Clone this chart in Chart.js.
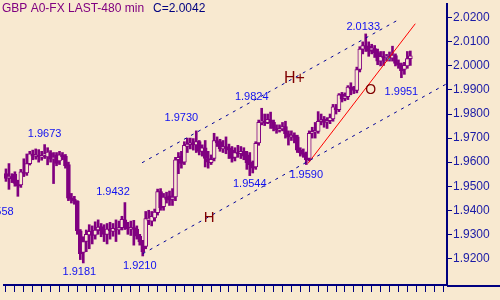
<!DOCTYPE html>
<html>
<head>
<meta charset="utf-8">
<script src="https://cdn.jsdelivr.net/npm/chart.js@4"></script>
<style>
  html, body { margin: 0; padding: 0; background: #F8E9D0; }
</style>
</head>
<body>
<canvas id="myChart" width="500" height="300"></canvas>
<script>
// GBP 480 min bars (bar 0 = leftmost)
var opens = [1.9553,1.9535,1.9540,1.9550,1.9512,1.9505,1.9558,1.9555,1.9594,1.9632,
  1.9625,1.9628,1.9622,1.9630,1.9622,1.9638,1.9614,1.9630,1.9605,1.9630,
  1.9625,1.9590,1.9452,1.9445,1.9438,1.9315,1.9225,1.9270,1.9298,1.9310,
  1.9296,1.9318,1.9332,1.9315,1.9300,1.9322,1.9312,1.9325,1.9318,1.9328,
  1.9360,1.9330,1.9322,1.9328,1.9322,1.9292,1.9268,1.9250,1.9358,1.9355,
  1.9368,1.9390,1.9478,1.9415,1.9455,1.9460,1.9445,1.9455,1.9610,1.9625,
  1.9600,1.9665,1.9675,1.9680,1.9672,1.9685,1.9645,1.9660,1.9615,1.9598,
  1.9615,1.9690,1.9685,1.9655,1.9665,1.9660,1.9650,1.9620,1.9640,1.9635,
  1.9645,1.9630,1.9600,1.9590,1.9580,1.9680,1.9765,1.9770,1.9764,1.9775,
  1.9765,1.9740,1.9733,1.9738,1.9748,1.9718,1.9705,1.9712,1.9705,1.9650,
  1.9640,1.9632,1.9615,1.9720,1.9725,1.9728,1.9770,1.9778,1.9766,1.9772,
  1.9780,1.9825,1.9818,1.9882,1.9865,1.9872,1.9912,1.9905,1.9898,1.9985,
  2.0070,2.0083,2.0082,2.0065,2.0072,2.0055,2.0020,2.0038,2.0035,2.0040,
  2.0032,2.0043,2.0012,2.0005,1.9985,2.0000,2.0030];
var highs = [1.9572,1.9594,1.9552,1.9560,1.9525,1.9570,1.9614,1.9634,1.9645,1.9650,
  1.9655,1.9652,1.9645,1.9673,1.9660,1.9648,1.9640,1.9640,1.9645,1.9640,
  1.9632,1.9600,1.9470,1.9458,1.9440,1.9320,1.9290,1.9318,1.9340,1.9335,
  1.9352,1.9360,1.9345,1.9340,1.9345,1.9350,1.9345,1.9360,1.9355,1.9375,
  1.9432,1.9350,1.9355,1.9358,1.9335,1.9300,1.9275,1.9395,1.9400,1.9395,
  1.9405,1.9488,1.9490,1.9470,1.9475,1.9480,1.9490,1.9620,1.9640,1.9645,
  1.9685,1.9700,1.9700,1.9698,1.9730,1.9690,1.9672,1.9690,1.9645,1.9630,
  1.9720,1.9705,1.9695,1.9690,1.9705,1.9675,1.9665,1.9660,1.9670,1.9665,
  1.9660,1.9645,1.9640,1.9605,1.9685,1.9775,1.9824,1.9800,1.9800,1.9808,
  1.9775,1.9755,1.9755,1.9765,1.9770,1.9730,1.9730,1.9722,1.9712,1.9660,
  1.9655,1.9642,1.9730,1.9745,1.9765,1.9810,1.9800,1.9790,1.9785,1.9800,
  1.9840,1.9840,1.9885,1.9890,1.9888,1.9918,1.9930,1.9915,1.9995,2.0080,
  2.0100,2.0133,2.0100,2.0090,2.0085,2.0070,2.0060,2.0060,2.0048,2.0058,
  2.0082,2.0050,2.0025,2.0012,2.0015,2.0060,2.0062];
var lows = [1.9520,1.9487,1.9515,1.9500,1.9458,1.9495,1.9540,1.9545,1.9588,1.9610,
  1.9612,1.9600,1.9608,1.9615,1.9589,1.9600,1.9511,1.9585,1.9590,1.9610,
  1.9575,1.9440,1.9430,1.9425,1.9300,1.9195,1.9181,1.9228,1.9240,1.9260,
  1.9280,1.9300,1.9290,1.9270,1.9260,1.9280,1.9292,1.9270,1.9300,1.9318,
  1.9320,1.9300,1.9295,1.9255,1.9280,1.9255,1.9210,1.9240,1.9340,1.9335,
  1.9355,1.9380,1.9400,1.9400,1.9430,1.9420,1.9420,1.9440,1.9552,1.9575,
  1.9590,1.9640,1.9655,1.9650,1.9640,1.9630,1.9625,1.9580,1.9575,1.9590,
  1.9605,1.9665,1.9645,1.9640,1.9635,1.9615,1.9600,1.9605,1.9620,1.9615,
  1.9610,1.9570,1.9544,1.9555,1.9570,1.9670,1.9755,1.9752,1.9760,1.9740,
  1.9730,1.9720,1.9725,1.9730,1.9700,1.9671,1.9690,1.9680,1.9640,1.9625,
  1.9620,1.9590,1.9605,1.9700,1.9700,1.9720,1.9755,1.9745,1.9740,1.9760,
  1.9770,1.9800,1.9810,1.9850,1.9855,1.9860,1.9880,1.9885,1.9888,1.9975,
  2.0050,2.0060,2.0040,2.0050,2.0035,2.0005,2.0000,2.0002,2.0020,2.0020,
  2.0020,2.0000,1.9990,1.9951,1.9965,1.9990,2.0002];
var closes = [1.9532,1.9540,1.9530,1.9512,1.9500,1.9560,1.9553,1.9594,1.9635,1.9625,
  1.9630,1.9622,1.9626,1.9634,1.9642,1.9612,1.9620,1.9595,1.9630,1.9622,
  1.9585,1.9450,1.9445,1.9440,1.9315,1.9220,1.9270,1.9300,1.9312,1.9295,
  1.9318,1.9330,1.9315,1.9300,1.9322,1.9315,1.9325,1.9318,1.9328,1.9362,
  1.9330,1.9322,1.9328,1.9320,1.9292,1.9268,1.9228,1.9365,1.9368,1.9375,
  1.9392,1.9478,1.9410,1.9455,1.9445,1.9442,1.9455,1.9610,1.9620,1.9595,
  1.9670,1.9675,1.9680,1.9672,1.9685,1.9645,1.9660,1.9615,1.9600,1.9612,
  1.9690,1.9680,1.9655,1.9665,1.9658,1.9650,1.9615,1.9640,1.9635,1.9645,
  1.9625,1.9598,1.9590,1.9575,1.9678,1.9765,1.9770,1.9762,1.9778,1.9765,
  1.9740,1.9735,1.9740,1.9748,1.9718,1.9705,1.9712,1.9703,1.9650,1.9638,
  1.9632,1.9610,1.9720,1.9728,1.9732,1.9770,1.9776,1.9765,1.9772,1.9785,
  1.9830,1.9818,1.9880,1.9862,1.9875,1.9912,1.9905,1.9898,1.9985,2.0070,
  2.0085,2.0075,2.0060,2.0075,2.0055,2.0020,2.0040,2.0033,2.0040,2.0032,
  2.0045,2.0010,2.0005,1.9980,2.0002,2.0030,2.0042];

var yTicks = [1.92, 1.93, 1.94, 1.95, 1.96, 1.97, 1.98, 1.99, 2.00, 2.01, 2.02];

// drawn lines: [bar index, price]
var upperLine = [[45.77, 1.95975], [131.57, 2.01889]];
var lowerLine = [[46.0, 1.92193], [148.4, 1.99270]];
var redLine = [[101.57, 1.95947], [137.67, 2.01754]];
var crossPoint = [[128.67, 2.00299]];

var bg = "#F8E9D0";
var purple = "#800080";
var navy = "#000080";
var font = "'Liberation Sans', Arial, sans-serif";

// text notes on the chart (bar index, price)
var notes = [
  { t: "1.9558", x: -3.07, y: 1.93926, c: "#1010F0", f: 11 },
  { t: "1.9673", x: 13.0, y: 1.97164, c: "#1010F0", f: 11 },
  { t: "1.9432", x: 36.0, y: 1.94746, c: "#1010F0", f: 11 },
  { t: "1.9181", x: 24.67, y: 1.91426, c: "#1010F0", f: 11 },
  { t: "1.9210", x: 45.0, y: 1.91672, c: "#1010F0", f: 11 },
  { t: "1.9730", x: 59.0, y: 1.97820, c: "#1010F0", f: 11 },
  { t: "1.9544", x: 82.0, y: 1.95074, c: "#1010F0", f: 11 },
  { t: "1.9824", x: 82.67, y: 1.98701, c: "#1010F0", f: 11 },
  { t: "1.9590", x: 101.0, y: 1.95455, c: "#1010F0", f: 11 },
  { t: "2.0133", x: 120.17, y: 2.01602, c: "#1010F0", f: 11 },
  { t: "1.9951", x: 133.0, y: 1.98897, c: "#1010F0", f: 11 },
  { t: "H+", x: 97.0, y: 1.99459, c: "#800000", f: 16 },
  { t: "O", x: 122.67, y: 1.99008, c: "#800000", f: 14 },
  { t: "H", x: 68.33, y: 1.93680, c: "#800000", f: 15 }
];

const toPts = arr => arr.map(p => ({ x: p[0], y: p[1] }));

const decor = {
  id: "decor",
  beforeDraw(chart) {
    const ctx = chart.ctx;
    ctx.save();
    ctx.fillStyle = bg;
    ctx.fillRect(0, 0, chart.width, chart.height);
    ctx.restore();
  },
  afterDatasetsDraw(chart) {
    const ctx = chart.ctx;
    const xs = chart.scales.x, ys = chart.scales.y;
    ctx.save();
    ctx.textAlign = "center";
    ctx.textBaseline = "middle";
    notes.forEach(n => {
      ctx.font = n.f + "px " + font;
      ctx.fillStyle = n.c;
      ctx.fillText(n.t, xs.getPixelForValue(n.x), ys.getPixelForValue(n.y));
    });
    ctx.restore();
  },
  afterDraw(chart) {
    const ctx = chart.ctx;
    const area = chart.chartArea;
    ctx.save();
    // axis line runs on under the price scale
    ctx.strokeStyle = navy;
    ctx.lineWidth = 2;
    ctx.beginPath();
    ctx.moveTo(area.right, area.bottom + 1);
    ctx.lineTo(chart.width, area.bottom + 1);
    ctx.stroke();
    // header
    ctx.font = "12px " + font;
    ctx.textBaseline = "alphabetic";
    ctx.textAlign = "left";
    ctx.fillStyle = purple;
    ctx.fillText("GBP A0-FX LAST-480 min", 2, 12);
    ctx.fillStyle = navy;
    ctx.fillText("C=" + closes[closes.length - 1].toFixed(4), 153, 12);
    ctx.restore();
  }
};

new Chart("myChart", {
  type: "bar",
  data: {
    datasets: [
      { type: "line", data: toPts(upperLine), borderColor: "#000099", borderWidth: 1,
        borderDash: [3, 5], pointRadius: 0, order: 0 },
      { type: "line", data: toPts(lowerLine), borderColor: "#000099", borderWidth: 1,
        borderDash: [3, 5], pointRadius: 0, order: 0 },
      { type: "line", data: toPts(redLine), borderColor: "#FF0000", borderWidth: 1,
        pointRadius: 0, order: 0 },
      { type: "line", data: toPts(crossPoint), showLine: false, pointStyle: "rect",
        pointRadius: 1.5, pointBackgroundColor: "#00E0E0", pointBorderWidth: 0, order: 0 },
      {
        data: opens.map((o, i) => ({ x: i, y: [o, closes[i]] })),
        backgroundColor: ctx => closes[ctx.dataIndex] >= opens[ctx.dataIndex] ? bg : purple,
        borderColor: purple,
        borderWidth: 1,
        borderSkipped: false,
        barThickness: 4,
        minBarLength: 1,
        grouped: false,
        order: 1
      },
      {
        data: lows.map((l, i) => ({ x: i, y: [l, highs[i]] })),
        backgroundColor: purple,
        barThickness: 2,
        grouped: false,
        order: 2
      }
    ]
  },
  options: {
    responsive: false,
    animation: false,
    events: [],
    layout: { padding: { left: 0, top: 0, right: 8, bottom: 8 } },
    plugins: { legend: { display: false }, tooltip: { enabled: false } },
    scales: {
      x: {
        type: "linear",
        min: -2 / 3,
        max: 445 / 3,
        offset: false,
        afterBuildTicks: scale => {
          const t = [];
          for (let i = 0; i <= 147; i += 3) t.push({ value: i });
          scale.ticks = t;
        },
        afterFit: scale => { scale.height = 7; },
        ticks: { display: false },
        grid: { offset: false, drawOnChartArea: false, drawTicks: true, tickLength: 7, color: navy, lineWidth: 1 },
        border: { display: true, color: navy, width: 2 }
      },
      y: {
        position: "right",
        min: 2.02 - 271 / 2440,
        max: 2.02 + 14 / 2440,
        afterBuildTicks: scale => { scale.ticks = yTicks.map(v => ({ value: v })); },
        afterFit: scale => { scale.width = 45; scale.paddingTop = 0; scale.paddingBottom = 0; },
        ticks: {
          padding: 1,
          color: "#1A1AA6",
          font: { family: font, size: 12 },
          callback: v => v.toFixed(4)
        },
        grid: { drawOnChartArea: false, drawTicks: true, tickLength: 5, color: navy, lineWidth: 1 },
        border: { display: true, color: navy, width: 2 }
      }
    }
  },
  plugins: [decor]
});
</script>
</body>
</html>
